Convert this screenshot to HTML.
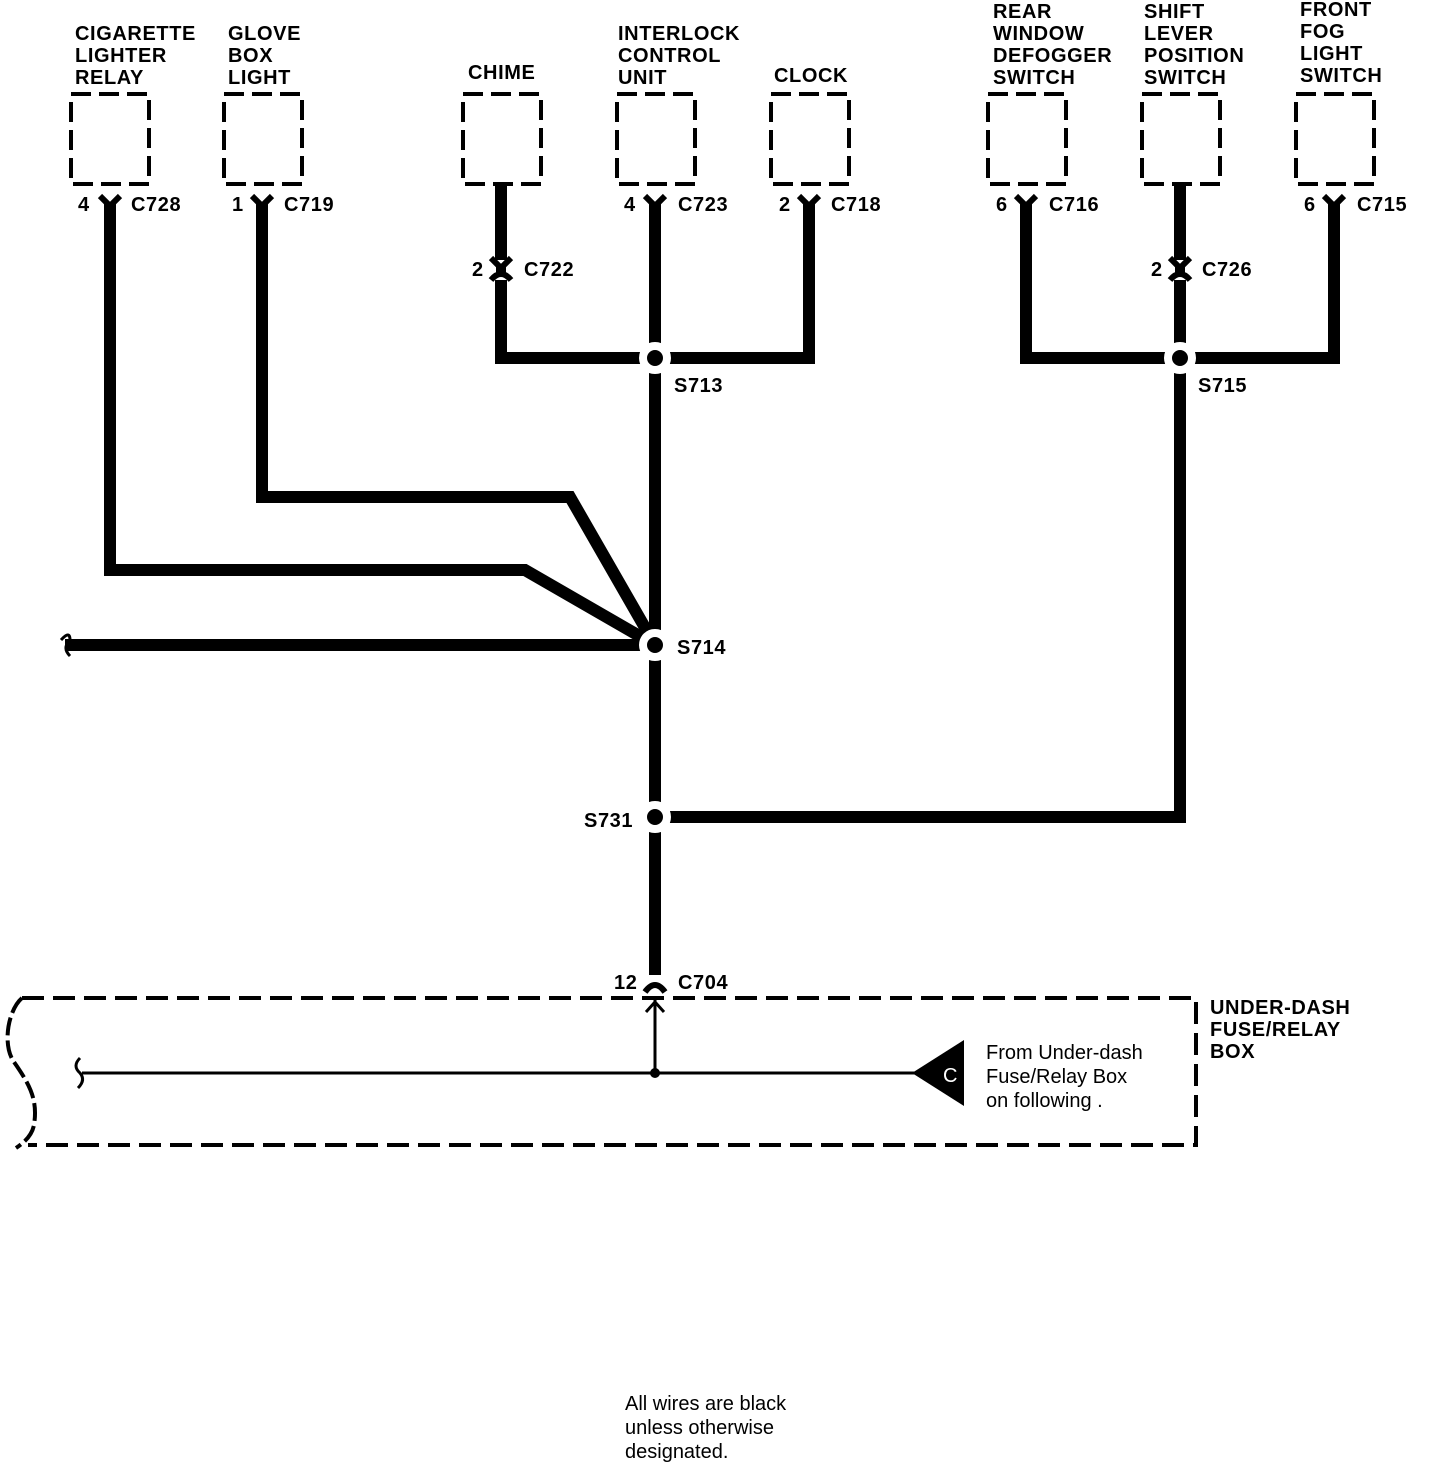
<!DOCTYPE html>
<html><head><meta charset="utf-8"><style>
html,body{margin:0;padding:0;background:#fff;}
svg{display:block;}
text{font-family:"Liberation Sans",sans-serif;font-weight:bold;font-size:20px;fill:#000;letter-spacing:0.6px;}
.n{font-weight:normal;letter-spacing:0;}
</style></head><body>
<svg width="1440" height="1466" viewBox="0 0 1440 1466" xmlns="http://www.w3.org/2000/svg">
<g fill="none" stroke="#000" stroke-width="4" stroke-dasharray="20,8">
<rect x="71" y="94" width="78" height="90"/>
<rect x="224" y="94" width="78" height="90"/>
<rect x="463" y="94" width="78" height="90"/>
<rect x="617" y="94" width="78" height="90"/>
<rect x="771" y="94" width="78" height="90"/>
<rect x="988" y="94" width="78" height="90"/>
<rect x="1142" y="94" width="78" height="90"/>
<rect x="1296" y="94" width="78" height="90"/>
<path d="M22,998 H1196 V1145 H28" stroke-dasharray="22,9"/>
<path d="M22,998 C8,1010 2,1045 14,1062 C30,1085 38,1100 34,1125 C32,1135 25,1142 16,1148" stroke-dasharray="18,5"/>
</g>
<g fill="none" stroke="#000" stroke-width="12" stroke-linejoin="miter">
<polyline points="110,204 110,570 525,570 655,645"/>
<polyline points="262,204 262,497 570,497 655,645"/>
<line x1="65" y1="645" x2="655" y2="645"/>
<line x1="501" y1="184" x2="501" y2="260"/>
<polyline points="501,280 501,358 809,358 809,204"/>
<line x1="655" y1="204" x2="655" y2="975"/>
<line x1="1180" y1="184" x2="1180" y2="260"/>
<polyline points="1026,204 1026,358 1334,358 1334,204"/>
<polyline points="1180,280 1180,817 655,817"/>
</g>
<g fill="none" stroke="#000" stroke-width="6">
<polyline points="100,196 110,206 120,196"/>
<polyline points="252,196 262,206 272,196"/>
<polyline points="645,196 655,206 665,196"/>
<polyline points="799,196 809,206 819,196"/>
<polyline points="1016,196 1026,206 1036,196"/>
<polyline points="1324,196 1334,206 1344,196"/>
<polyline points="491,258 501,268 511,258"/>
<path d="M491,280 Q501,268 511,280"/>
<polyline points="1170,258 1180,268 1190,258"/>
<path d="M1170,280 Q1180,268 1190,280"/>
<path d="M645,992 Q655,978 665,992"/>
<path d="M61,640 Q70,630 70,640 Q62,648 70,656" stroke-width="3"/>
<path d="M80,1058 Q72,1066 80,1073 Q86,1080 78,1088" stroke-width="3"/>
</g>
<g stroke="#000" stroke-width="10">
<line x1="501" y1="264" x2="501" y2="276"/>
<line x1="1180" y1="264" x2="1180" y2="276"/>
</g>
<g stroke="#fff" stroke-width="8" fill="#000">
<circle cx="655" cy="358" r="12"/>
<circle cx="1180" cy="358" r="12"/>
<circle cx="655" cy="645" r="12"/>
<circle cx="655" cy="817" r="12"/>
</g>
<g stroke="#000" stroke-width="3" fill="none">
<line x1="82" y1="1073" x2="915" y2="1073"/>
<line x1="655" y1="1073" x2="655" y2="1000"/>
<polyline points="646,1012 655,1002 664,1012"/>
</g>
<circle cx="655" cy="1073" r="5" fill="#000"/>
<polygon points="912,1073 964,1040 964,1106" fill="#000"/>
<text x="943" y="1082" style="fill:#fff" class="n">C</text>
<g>
<text x="75" y="40">CIGARETTE</text><text x="75" y="62">LIGHTER</text><text x="75" y="84">RELAY</text>
<text x="228" y="40">GLOVE</text><text x="228" y="62">BOX</text><text x="228" y="84">LIGHT</text>
<text x="468" y="79">CHIME</text>
<text x="618" y="40">INTERLOCK</text><text x="618" y="62">CONTROL</text><text x="618" y="84">UNIT</text>
<text x="774" y="82">CLOCK</text>
<text x="993" y="18">REAR</text><text x="993" y="40">WINDOW</text><text x="993" y="62">DEFOGGER</text><text x="993" y="84">SWITCH</text>
<text x="1144" y="18">SHIFT</text><text x="1144" y="40">LEVER</text><text x="1144" y="62">POSITION</text><text x="1144" y="84">SWITCH</text>
<text x="1300" y="16">FRONT</text><text x="1300" y="38">FOG</text><text x="1300" y="60">LIGHT</text><text x="1300" y="82">SWITCH</text>
<text x="78" y="211">4</text><text x="131" y="211">C728</text>
<text x="232" y="211">1</text><text x="284" y="211">C719</text>
<text x="624" y="211">4</text><text x="678" y="211">C723</text>
<text x="779" y="211">2</text><text x="831" y="211">C718</text>
<text x="996" y="211">6</text><text x="1049" y="211">C716</text>
<text x="1304" y="211">6</text><text x="1357" y="211">C715</text>
<text x="472" y="276">2</text><text x="524" y="276">C722</text>
<text x="1151" y="276">2</text><text x="1202" y="276">C726</text>
<text x="674" y="392">S713</text>
<text x="1198" y="392">S715</text>
<text x="677" y="654">S714</text>
<text x="584" y="827">S731</text>
<text x="614" y="989">12</text><text x="678" y="989">C704</text>
<text x="1210" y="1014">UNDER-DASH</text><text x="1210" y="1036">FUSE/RELAY</text><text x="1210" y="1058">BOX</text>
<text x="986" y="1059" class="n">From Under-dash</text><text x="986" y="1083" class="n">Fuse/Relay Box</text><text x="986" y="1107" class="n">on following .</text>
<text x="625" y="1410" class="n">All wires are black</text><text x="625" y="1434" class="n">unless otherwise</text><text x="625" y="1458" class="n">designated.</text>
</g>
</svg>
</body></html>
